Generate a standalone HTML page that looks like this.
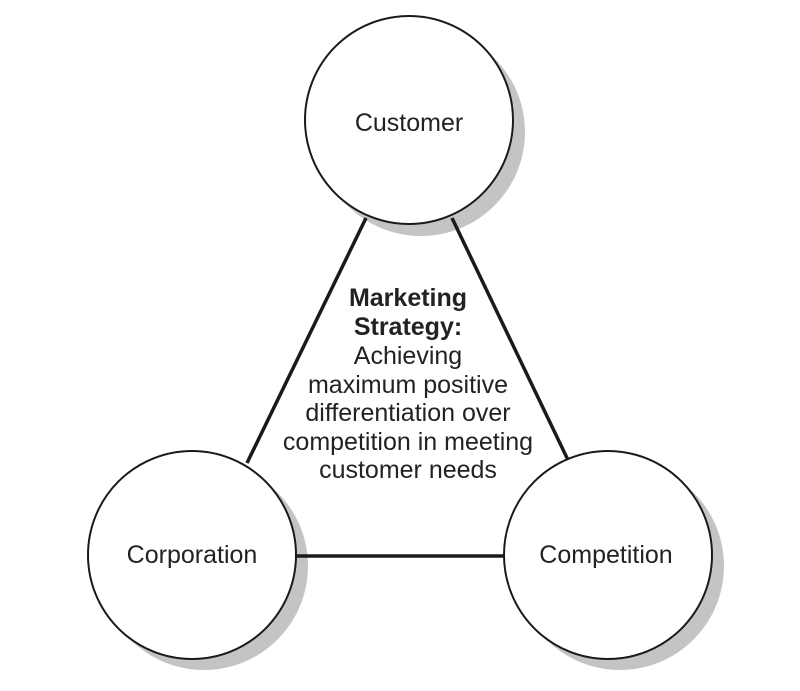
<!DOCTYPE html>
<html><head><style>
html,body{margin:0;padding:0;background:#fff;}
</style></head><body>
<svg width="800" height="686" viewBox="0 0 800 686" xmlns="http://www.w3.org/2000/svg" font-family="Liberation Sans, sans-serif">
<g fill="#c4c4c6">
<circle cx="421" cy="132" r="104"/>
<circle cx="204" cy="566" r="104"/>
<circle cx="620" cy="566" r="104"/>
</g>
<g stroke="#1a1a1a" stroke-width="3.5">
<line x1="366" y1="218" x2="247" y2="463"/>
<line x1="452" y1="218" x2="568" y2="460"/>
<line x1="294" y1="556" x2="506" y2="556"/>
</g>
<g fill="#fff" stroke="#1a1a1a" stroke-width="2">
<circle cx="409" cy="120" r="104"/>
<circle cx="192" cy="555" r="104"/>
<circle cx="608" cy="555" r="104"/>
</g>
<g fill="#222" font-size="25" text-anchor="middle">
<text x="409" y="131">Customer</text>
<text x="192" y="563">Corporation</text>
<text x="606" y="563">Competition</text>
<text x="408" y="306" font-weight="bold">Marketing</text>
<text x="408" y="335" font-weight="bold">Strategy:</text>
<text x="408" y="364">Achieving</text>
<text x="408" y="393">maximum positive</text>
<text x="408" y="421">differentiation over</text>
<text x="408" y="450">competition in meeting</text>
<text x="408" y="478">customer needs</text>
</g>
</svg>
</body></html>
